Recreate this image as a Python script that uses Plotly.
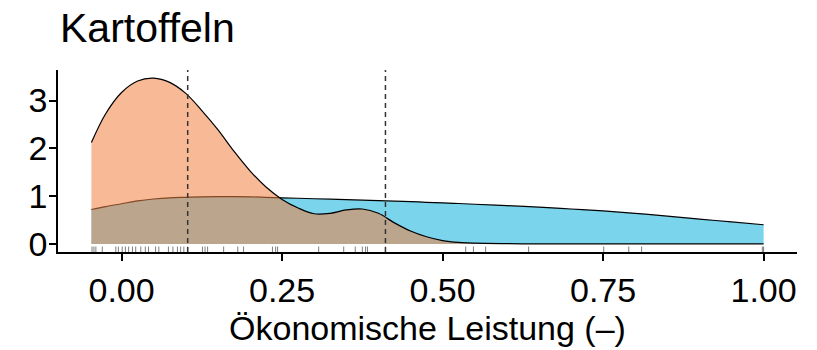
import plotly.graph_objects as go

# ---- data ----
x_grid = [-0.047, -0.025, 0.0, 0.025, 0.05, 0.075, 0.1, 0.125, 0.15, 0.175, 0.2,
          0.225, 0.25, 0.275, 0.3, 0.325, 0.35, 0.375, 0.4, 0.425, 0.45, 0.475,
          0.5, 0.525, 0.55, 0.6, 0.65, 0.7, 0.75, 0.8, 0.85, 0.9, 0.95, 1.0]

dens_orange = [2.12, 2.72, 3.17, 3.41, 3.47, 3.38, 3.15, 2.79, 2.39, 1.94, 1.53,
               1.19, 0.93, 0.75, 0.63, 0.64, 0.71, 0.73, 0.64, 0.44, 0.27, 0.15,
               0.07, 0.03, 0.015, 0.005, 0.0, 0.0, 0.0, 0.0, 0.0, 0.0, 0.0, 0.0]

dens_blue = [0.72, 0.78, 0.84, 0.90, 0.94, 0.965, 0.975, 0.985, 0.99, 0.99, 0.985,
             0.975, 0.965, 0.955, 0.945, 0.935, 0.925, 0.915, 0.905, 0.895, 0.885, 0.87,
             0.86, 0.845, 0.83, 0.80, 0.77, 0.73, 0.69, 0.64, 0.58, 0.52, 0.46, 0.40]

group_means = [0.103, 0.411]

rug_values = [-0.046, -0.043, -0.040, -0.030, -0.009, -0.005, 0.001, 0.006, 0.011,
              0.017, 0.022, 0.030, 0.037, 0.042, 0.053, 0.058, 0.073, 0.080, 0.087,
              0.092, 0.097, 0.103, 0.126, 0.130, 0.134, 0.159, 0.181, 0.190, 0.235,
              0.240, 0.243, 0.307, 0.346, 0.364, 0.375, 0.380, 0.383, 0.411, 0.536,
              0.548, 0.567, 0.634, 0.751, 0.790, 0.810, 0.998, 1.000]

title_text = "Kartoffeln"
x_title = "Ökonomische Leistung (–)"
x_ticks = [0.0, 0.25, 0.5, 0.75, 1.0]
x_ticklabels = ["0.00", "0.25", "0.50", "0.75", "1.00"]
y_ticks = [0, 1, 2, 3]

FONT = "Liberation Sans, Arial, sans-serif"

fig = go.Figure()

fig.add_trace(go.Scatter(
    x=x_grid, y=dens_blue, mode="lines", line=dict(color="black", width=1.2, shape="spline"),
    fill="tozeroy", fillcolor="rgb(122,212,235)", hoverinfo="skip", showlegend=False))
fig.add_trace(go.Scatter(
    x=x_grid, y=dens_orange, mode="lines", line=dict(color="black", width=1.2, shape="spline"),
    fill="tozeroy", fillcolor="rgba(240,128,64,0.55)", hoverinfo="skip", showlegend=False))

# rug
for v in rug_values:
    fig.add_shape(type="line", xref="x", yref="paper", x0=v, x1=v, y0=0, y1=0.03,
                  line=dict(color="rgba(40,40,40,0.6)", width=1))

# mean lines
for m in group_means:
    fig.add_shape(type="line", xref="x", yref="paper", x0=m, x1=m, y0=0, y1=1,
                  line=dict(color="#333333", width=1.5, dash="5px,4px"))

fig.update_layout(
    width=817, height=350,
    margin=dict(l=58, r=20, t=70, b=95),
    paper_bgcolor="white", plot_bgcolor="white",
    font=dict(family=FONT, color="black", size=34),
    title=dict(text=title_text, x=60/817, xanchor="left", xref="container",
               y=1-28/350, yanchor="middle", font=dict(size=41, family=FONT, color="black")),
    xaxis=dict(range=[-0.099, 1.052], tickvals=x_ticks, ticktext=x_ticklabels,
               showgrid=False, zeroline=False, showline=True, linecolor="black", linewidth=1.5,
               ticks="outside", ticklen=7, tickwidth=1.5, tickcolor="black",
               tickfont=dict(size=34, family=FONT, color="black"),
               title=dict(text=x_title, standoff=6, font=dict(size=34, family=FONT, color="black"))),
    yaxis=dict(range=[-0.17, 3.64], tickvals=y_ticks,
               showgrid=False, zeroline=False, showline=True, linecolor="black", linewidth=1.5,
               ticks="outside", ticklen=7, tickwidth=1.5, tickcolor="black",
               ticklabelstandoff=-5,
               tickfont=dict(size=34, family=FONT, color="black")),
)

fig.write_html("out.html")
